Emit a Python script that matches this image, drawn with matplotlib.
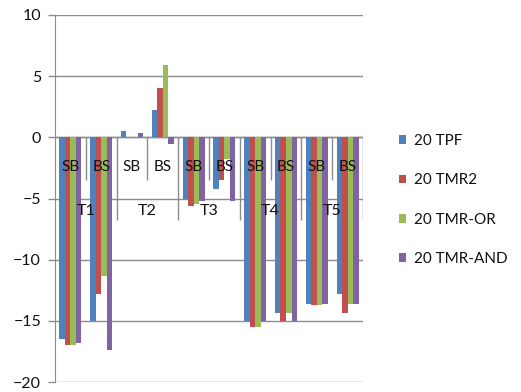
import matplotlib
matplotlib.use('Agg')
import matplotlib.pyplot as plt
from matplotlib.patches import Patch
import numpy as np

# category labels (two levels)
sub_labels = ['SB', 'BS', 'SB', 'BS', 'SB', 'BS', 'SB', 'BS', 'SB', 'BS']
group_labels = ['T1', 'T2', 'T3', 'T4', 'T5']

series_names = ['20 TPF', '20 TMR2', '20 TMR-OR', '20 TMR-AND']
tpf = [-16.5, -15.0, 0.55, 2.25, -5.05, -4.25, -15.0, -14.4, -13.6, -12.8]
tmr2 = [-17.0, -12.8, 0.0, 4.0, -5.6, -3.45, -15.5, -15.05, -13.7, -14.4]
tmr_or = [-17.0, -11.3, 0.0, 5.9, -5.45, -1.75, -15.5, -14.4, -13.7, -13.6]
tmr_and = [-16.8, -17.35, 0.35, -0.55, -5.2, -5.2, -15.05, -15.05, -13.6, -13.6]

colors = ['#4F81BD', '#C0504D', '#9BBB59', '#8064A2']
series = [tpf, tmr2, tmr_or, tmr_and]

plt.rcParams['font.family'] = ['Lato', 'DejaVu Sans']

fig = plt.figure(figsize=(5.21, 3.92), dpi=100)
ax = fig.add_axes([55 / 521, 1 - 382 / 392, (363 - 55) / 521, (382 - 15) / 392])

x = np.arange(len(sub_labels))
w = 0.18
for k, (vals, c) in enumerate(zip(series, colors)):
    ax.bar(x + (k - 1.5) * w, vals, width=w, color=c, zorder=2)

ax.set_xlim(-0.5, len(sub_labels) - 0.5)
ax.set_ylim(-20, 10)
ax.set_yticks(np.arange(-20, 11, 5))
ax.yaxis.grid(True, color='#8C8C8C', linewidth=1.0, zorder=0)
ax.set_axisbelow(True)
ax.set_xticks([])

for s in ['top', 'right', 'bottom']:
    ax.spines[s].set_visible(False)
ax.spines['left'].set_color('#8C8C8C')
ax.tick_params(axis='y', colors='#8C8C8C', length=5, width=1, labelsize=11.5,
               labelcolor='#111111', pad=5)

# axis line at zero and multi-level category labels
ax.axhline(0, color='#8C8C8C', linewidth=1.0, zorder=1)
for i, lab in enumerate(sub_labels):
    ax.text(i, -2.45, lab, ha='center', va='center', fontsize=11, color='#111111', zorder=4)
for g, lab in enumerate(group_labels):
    ax.text(2 * g + 0.5, -6.0, lab, ha='center', va='center', fontsize=11.5, color='#111111', zorder=4)
ax.vlines(np.arange(0.5, 10, 2), -3.5, 0, color='#8C8C8C', linewidth=1.0, zorder=1)
ax.vlines(np.arange(1.5, 10, 2), -6.75, 0, color='#8C8C8C', linewidth=1.0, zorder=1)

handles = [Patch(facecolor=c, edgecolor='none') for c in colors]
fig.legend(handles, series_names, loc='center left', bbox_to_anchor=(385 / 521, 1 - 200 / 392),
           frameon=False, fontsize=11, handlelength=0.5, handleheight=0.5,
           labelspacing=1.65, handletextpad=0.5, labelcolor='#111111')

fig.savefig('out.png', dpi=100, facecolor='white')
